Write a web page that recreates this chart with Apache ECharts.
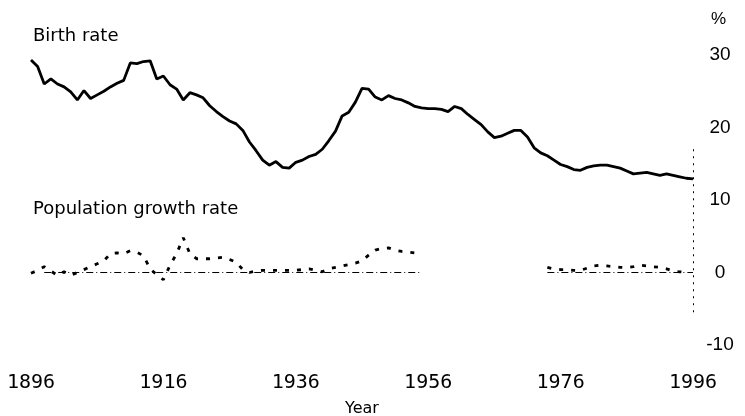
<!DOCTYPE html>
<html>
<head>
<meta charset="utf-8">
<script src="https://cdn.jsdelivr.net/npm/echarts@6/dist/echarts.min.js"></script>
<style>
  html, body { margin: 0; padding: 0; background: #fff; }
  #chart { width: 745px; height: 416px; }
</style>
</head>
<body>
<div id="chart"></div>
<script>
// years run 1896..1996, one value per year
var startYear = 1896;
var xTickLabels = ['1896', '1916', '1936', '1956', '1976', '1996'];
var yTickLabels = [-10, 0, 10, 20, 30];

// Birth rate (%), 1896 - 1996
var birthRate = [
  29.3, 28.4, 26.0, 26.7, 26.0, 25.6, 24.9, 23.8, 25.1, 24.0,
  24.5, 25.0, 25.6, 26.1, 26.5, 28.9, 28.8, 29.1, 29.2, 26.7,
  27.1, 25.9, 25.3, 23.8, 24.8, 24.5, 24.1, 23.0, 22.2, 21.5,
  20.9, 20.5, 19.6, 18.0, 16.8, 15.5, 14.8, 15.3, 14.5, 14.4,
  15.2, 15.5, 16.0, 16.3, 17.0, 18.2, 19.5, 21.6, 22.1, 23.5,
  25.4, 25.3, 24.2, 23.8, 24.4, 24.0, 23.8, 23.4, 22.9, 22.7,
  22.6, 22.6, 22.5, 22.2, 22.9, 22.6, 21.8, 21.1, 20.4, 19.4,
  18.6, 18.8, 19.2, 19.6, 19.6, 18.7, 17.2, 16.5, 16.1, 15.5,
  14.9, 14.6, 14.2, 14.1, 14.5, 14.7, 14.8, 14.8, 14.6, 14.4,
  14.0, 13.6, 13.7, 13.8, 13.6, 13.4, 13.6, 13.4, 13.2, 13.0,
  12.9
];

// Population growth rate (%), 1896 - 1996 (no data 1955-1973)
var growthRate = [
  -0.1, 0.3, 0.8, 0.2, -0.4, 0.1, -0.4, 0.0, 0.4, 0.8,
  1.2, 1.6, 2.6, 2.7, 2.6, 3.0, 2.8, 2.3, 0.5, -0.3,
  -1.0, 1.0, 2.6, 4.8, 2.6, 1.9, 1.9, 1.9, 2.0, 2.1,
  1.8, 1.4, 0.4, 0.0, 0.2, 0.3, 0.3, 0.3, 0.3, 0.3,
  0.3, 0.4, 0.5, 0.3, 0.1, 0.5, 0.7, 0.9, 1.1, 1.3,
  1.6, 2.4, 3.1, 3.3, 3.4, 3.1, 2.9, 2.8, 2.7, null,
  null, null, null, null, null, null, null, null, null, null,
  null, null, null, null, null, null, null, null, 0.7, 0.5,
  0.4, 0.4, 0.3, 0.3, 0.6, 0.9, 1.0, 0.9, 0.8, 0.7,
  0.7, 0.8, 1.0, 0.9, 0.8, 0.7, 0.5, 0.2, 0.1, 0.0,
  null
];

// x axis uses years since 1896 so that ticks start at 0
function toPairs(arr) {
  var out = [];
  for (var i = 0; i < arr.length; i++) {
    out.push([i, arr[i]]);
  }
  return out;
}

var chart = echarts.init(document.getElementById('chart'));

var option = {
  animation: false,
  backgroundColor: '#fff',
  grid: { left: 31, right: 52, top: 55, bottom: 71, outerBoundsMode: 'none', containLabel: false },
  xAxis: {
    type: 'value',
    min: 0,
    max: 100,
    interval: 20,
    name: 'Year',
    nameLocation: 'middle',
    nameGap: 56,
    nameTextStyle: { fontFamily: '"DejaVu Sans"', fontSize: 16, color: '#000' },
    axisLine: { show: false },
    axisTick: { show: false },
    splitLine: { show: false },
    axisLabel: {
      margin: 28,
      fontFamily: '"DejaVu Sans Mono", "Liberation Mono", monospace',
      fontSize: 20,
      color: '#000',
      formatter: function (v) { return xTickLabels[Math.round(v / 20)]; }
    }
  },
  yAxis: {
    type: 'value',
    position: 'right',
    min: yTickLabels[0],
    max: yTickLabels[yTickLabels.length - 1],
    interval: 10,
    axisLine: { show: false },
    axisTick: { show: false },
    splitLine: { show: false },
    axisLabel: {
      margin: 27,
      align: 'center',
      fontFamily: '"Liberation Sans", Arial, sans-serif',
      fontSize: 19,
      color: '#000'
    }
  },
  graphic: [
    { type: 'text', left: 33, top: 27, style: { text: 'Birth rate', font: '18px "DejaVu Sans"', fill: '#000' } },
    { type: 'text', left: 33, top: 200, style: { text: 'Population growth rate', font: '18px "DejaVu Sans"', fill: '#000' } },
    { type: 'text', left: 711, top: 11, style: { text: '%', font: '17px "Liberation Sans"', fill: '#000' } }
  ],
  series: [
    {
      name: 'Birth rate',
      type: 'line',
      data: toPairs(birthRate),
      showSymbol: false,
      lineStyle: { color: '#000', width: 2.8 }
    },
    {
      name: 'Population growth rate',
      type: 'line',
      data: toPairs(growthRate),
      showSymbol: false,
      connectNulls: false,
      lineStyle: { color: '#000', width: 2.8, type: [4, 8] },
      markLine: {
        silent: true,
        symbol: 'none',
        label: { show: false },
        lineStyle: { color: '#000', width: 1, type: [7, 3, 1, 3] },
        data: [
          [{ coord: [2, 0] }, { coord: [59, 0] }],
          [{ coord: [78, 0] }, { coord: [100, 0] }],
          [{ coord: [100, 17], lineStyle: { type: [2, 5] } }, { coord: [100, -6] }]
        ]
      }
    }
  ]
};

chart.setOption(option);
</script>
</body>
</html>
